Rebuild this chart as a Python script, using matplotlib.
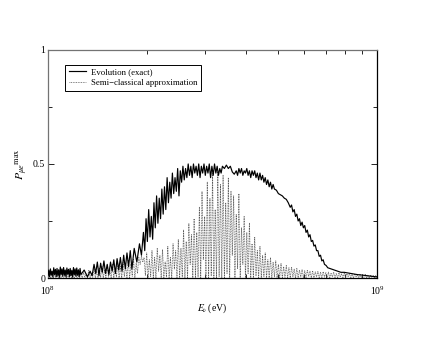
import numpy as np
import matplotlib
matplotlib.use("Agg")
import matplotlib.pyplot as plt
from matplotlib.ticker import LogLocator, NullFormatter, FixedLocator

plt.rcParams['font.family'] = ['Liberation Serif', 'DejaVu Serif']
plt.rcParams['mathtext.fontset'] = 'stix'

# Exact evolution: log10(E/eV) and max conversion probability
exact_logE = [
    8.0000, 8.0025, 8.0050, 8.0075, 8.0100, 8.0125, 8.0150, 8.0175, 8.0200, 8.0225,
    8.0250, 8.0275, 8.0300, 8.0325, 8.0350, 8.0375, 8.0400, 8.0425, 8.0450, 8.0475,
    8.0500, 8.0525, 8.0550, 8.0575, 8.0600, 8.0625, 8.0650, 8.0675, 8.0700, 8.0725,
    8.0750, 8.0775, 8.0800, 8.0825, 8.0850, 8.0875, 8.0900, 8.0925, 8.0950, 8.0975,
    8.100, 8.110, 8.120, 8.128, 8.134,
    8.140, 8.145, 8.150, 8.155, 8.160, 8.165, 8.170, 8.175, 8.180, 8.185,
    8.190, 8.195, 8.200, 8.205, 8.210, 8.215, 8.220, 8.225, 8.230, 8.235,
    8.240, 8.245, 8.250, 8.255, 8.262, 8.270, 8.278, 8.284, 8.290, 8.294,
    8.298, 8.302, 8.306, 8.310, 8.314, 8.318, 8.322, 8.326, 8.330, 8.334,
    8.338, 8.342, 8.346, 8.350, 8.354, 8.358, 8.362, 8.366, 8.370, 8.374,
    8.378, 8.382, 8.386, 8.390, 8.394, 8.398, 8.402, 8.406, 8.410, 8.414,
    8.418, 8.422, 8.426, 8.430, 8.434, 8.438, 8.442, 8.446, 8.450, 8.454,
    8.458, 8.462, 8.466, 8.470, 8.474, 8.478, 8.482, 8.486, 8.490, 8.494,
    8.498, 8.502, 8.506, 8.510, 8.514, 8.518, 8.522, 8.526, 8.530, 8.536,
    8.542, 8.548, 8.554, 8.560, 8.566, 8.572, 8.576, 8.580, 8.584, 8.588,
    8.592, 8.596, 8.600, 8.604, 8.608, 8.612, 8.616, 8.620, 8.624, 8.628,
    8.632, 8.636, 8.640, 8.644, 8.648, 8.652, 8.656, 8.660, 8.664, 8.668,
    8.672, 8.676, 8.680, 8.684, 8.688, 8.694, 8.700, 8.706, 8.712, 8.718,
    8.724, 8.730, 8.736, 8.740, 8.744, 8.748, 8.752, 8.756, 8.760, 8.764,
    8.768, 8.772, 8.776, 8.780, 8.784, 8.788, 8.792, 8.796, 8.800, 8.804,
    8.808, 8.812, 8.816, 8.820, 8.824, 8.828, 8.832, 8.836, 8.840, 8.845,
    8.850, 8.860, 8.870, 8.880, 8.890, 8.900, 8.920, 8.940, 8.960, 8.980,
    9.000,
]
exact_P = [
    0.010, 0.035, 0.005, 0.040, 0.012, 0.030, 0.004, 0.045, 0.015, 0.038,
    0.006, 0.042, 0.010, 0.036, 0.003, 0.048, 0.014, 0.040, 0.008, 0.046,
    0.012, 0.035, 0.005, 0.044, 0.016, 0.038, 0.006, 0.042, 0.010, 0.034,
    0.004, 0.046, 0.014, 0.040, 0.008, 0.044, 0.012, 0.036, 0.006, 0.042,
    0.015, 0.035, 0.005, 0.030, 0.010,
    0.060, 0.020, 0.070, 0.010, 0.065, 0.025, 0.075, 0.020, 0.060, 0.015,
    0.070, 0.030, 0.080, 0.020, 0.085, 0.035, 0.090, 0.030, 0.100, 0.040,
    0.110, 0.050, 0.120, 0.040, 0.130, 0.070, 0.150, 0.100, 0.200, 0.120,
    0.260, 0.160, 0.300, 0.180, 0.270, 0.170, 0.330, 0.220, 0.360, 0.240,
    0.350, 0.260, 0.390, 0.280, 0.400, 0.300, 0.440, 0.330, 0.420, 0.350,
    0.460, 0.370, 0.440, 0.380, 0.480, 0.360, 0.470, 0.420, 0.490, 0.430,
    0.480, 0.440, 0.500, 0.450, 0.490, 0.440, 0.500, 0.460, 0.490, 0.450,
    0.500, 0.440, 0.490, 0.460, 0.500, 0.450, 0.490, 0.460, 0.500, 0.440,
    0.490, 0.450, 0.500, 0.460, 0.490, 0.450, 0.480, 0.460, 0.490, 0.480,
    0.495, 0.480, 0.490, 0.465, 0.455, 0.470, 0.450, 0.480, 0.460, 0.480,
    0.450, 0.470, 0.460, 0.480, 0.450, 0.470, 0.440, 0.470, 0.450, 0.470,
    0.440, 0.460, 0.430, 0.460, 0.430, 0.450, 0.420, 0.440, 0.410, 0.430,
    0.400, 0.420, 0.390, 0.410, 0.390, 0.385, 0.370, 0.365, 0.360, 0.350,
    0.345, 0.330, 0.310, 0.320, 0.290, 0.300, 0.270, 0.280, 0.250, 0.260,
    0.230, 0.245, 0.220, 0.230, 0.200, 0.210, 0.180, 0.190, 0.160, 0.165,
    0.140, 0.145, 0.120, 0.120, 0.095, 0.100, 0.075, 0.080, 0.060, 0.055,
    0.045, 0.040, 0.035, 0.030, 0.025, 0.025, 0.020, 0.015, 0.012, 0.008,
    0.005,
]

# Semi-classical approximation, sampled every 0.004 in log10(E)
semi_logE = np.linspace(8.0, 9.0, 251)
semi_P = [
    0.0, 0.012, 0.0, 0.008, 0.002, 0.015, 0.0, 0.01, 0.0, 0.014,
    0.001, 0.009, 0.0, 0.016, 0.0, 0.011, 0.002, 0.013, 0.0, 0.01,
    0.0, 0.018, 0.001, 0.012, 0.0, 0.02, 0.0, 0.025, 0.002, 0.018,
    0.0, 0.035, 0.0, 0.022, 0.003, 0.04, 0.0, 0.03, 0.0, 0.045,
    0.002, 0.05, 0.0, 0.035, 0.0, 0.055, 0.004, 0.04, 0.0, 0.06,
    0.0, 0.045, 0.005, 0.065, 0.0, 0.05, 0.0, 0.07, 0.006, 0.055,
    0.0, 0.08, 0.0, 0.06, 0.008, 0.085, 0.0, 0.065, 0.02, 0.09,
    0.06, 0.095, 0.07, 0.09, 0.01, 0.11, 0.0, 0.08, 0.005, 0.12,
    0.0, 0.09, 0.0, 0.13, 0.03, 0.1, 0.0, 0.125, 0.0, 0.07,
    0.005, 0.14, 0.0, 0.09, 0.0, 0.15, 0.04, 0.12, 0.0, 0.17,
    0.0, 0.13, 0.005, 0.21, 0.0, 0.16, 0.0, 0.24, 0.06, 0.19,
    0.0, 0.26, 0.0, 0.2, 0.005, 0.31, 0.0, 0.38, 0.08, 0.27,
    0.0, 0.42, 0.0, 0.35, 0.01, 0.46, 0.0, 0.3, 0.0, 0.47,
    0.005, 0.41, 0.0, 0.45, 0.0, 0.33, 0.02, 0.44, 0.0, 0.38,
    0.1, 0.36, 0.0, 0.28, 0.04, 0.37, 0.0, 0.22, 0.06, 0.27,
    0.0, 0.2, 0.02, 0.24, 0.0, 0.15, 0.0, 0.18, 0.01, 0.12,
    0.0, 0.14, 0.0, 0.1, 0.005, 0.11, 0.0, 0.08, 0.0, 0.09,
    0.0, 0.07, 0.005, 0.075, 0.0, 0.06, 0.0, 0.065, 0.0, 0.05,
    0.003, 0.055, 0.0, 0.045, 0.0, 0.048, 0.004, 0.04, 0.0, 0.042,
    0.0, 0.035, 0.005, 0.038, 0.0, 0.032, 0.0, 0.035, 0.006, 0.03,
    0.0, 0.032, 0.0, 0.027, 0.005, 0.03, 0.0, 0.025, 0.0, 0.028,
    0.004, 0.024, 0.0, 0.026, 0.0, 0.022, 0.005, 0.025, 0.0, 0.021,
    0.0, 0.023, 0.004, 0.02, 0.0, 0.022, 0.0, 0.019, 0.005, 0.02,
    0.0, 0.018, 0.0, 0.019, 0.004, 0.016, 0.0, 0.018, 0.0, 0.015,
    0.003, 0.016, 0.0, 0.014, 0.0, 0.014, 0.003, 0.012, 0.0, 0.012,
    0.0,
]

exact_E = 10 ** np.array(exact_logE)
semi_E = 10 ** semi_logE

fig = plt.figure(figsize=(4.36, 3.37), dpi=100)
ax = fig.add_axes([0.110, 0.175, 0.755, 0.677])

ax.plot(semi_E, semi_P, color='0.35', lw=0.6, linestyle=(0, (1, 1)),
        label='Semi\u2212classical approximation', zorder=2)
ax.plot(exact_E, exact_P, color='black', lw=0.85,
        label='Evolution (exact)', zorder=3)

ax.set_xscale('log')
ax.set_xlim(1e8, 1e9)
ax.set_ylim(0, 1)

ax.xaxis.set_major_locator(FixedLocator([1e8, 1e9]))
ax.xaxis.set_minor_locator(LogLocator(base=10, subs=np.arange(2, 10)))
ax.xaxis.set_minor_formatter(NullFormatter())
ax.set_yticks([0, 0.5, 1])
ax.set_yticklabels(['0', '0.5', '1'])
ax.yaxis.set_minor_locator(FixedLocator([0.25, 0.75]))

ax.tick_params(which='both', direction='in', top=True, right=True,
               labelsize=7, width=0.6)
ax.tick_params(axis='x', pad=5)
ax.tick_params(axis='y', pad=2)
ax.tick_params(which='major', length=4)
ax.tick_params(which='minor', length=3)
for side in ['left', 'top']:
    ax.spines[side].set_color('0.45')
for side in ax.spines.values():
    side.set_linewidth(0.9)

ax.set_xlabel(r'$E_\nu\,$(eV)', fontsize=7, labelpad=3)
ax.set_ylabel(r'$P_{\mu e}{}^{\max}$', fontsize=8.5, labelpad=2)

handles, labels = ax.get_legend_handles_labels()
leg = ax.legend(handles[::-1], labels[::-1], loc='upper left',
                bbox_to_anchor=(0.052, 0.934), borderaxespad=0,
                fontsize=6.3, frameon=True,
                fancybox=False, edgecolor='black', framealpha=1,
                handlelength=2.0, handletextpad=0.6,
                borderpad=0.4, labelspacing=0.3)
leg.get_frame().set_linewidth(0.7)

fig.savefig('out.png', dpi=100)
